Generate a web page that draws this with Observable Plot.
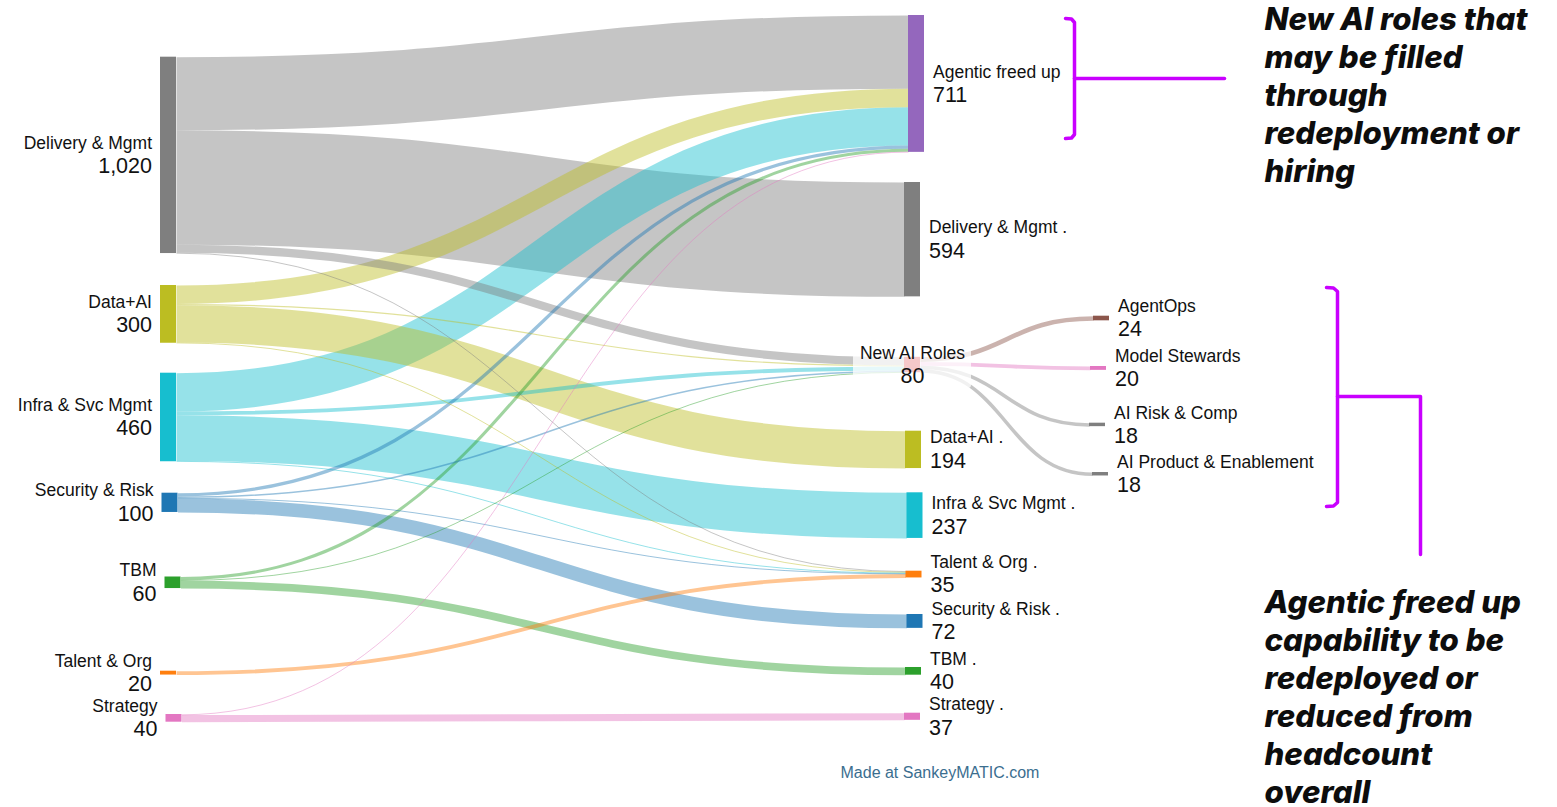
<!DOCTYPE html>
<html>
<head>
<meta charset="utf-8">
<script src="https://cdn.jsdelivr.net/npm/d3@7"></script>
<script src="https://cdn.jsdelivr.net/npm/@observablehq/plot@0.6"></script>
<style>
  html, body { margin: 0; padding: 0; background: #fff; overflow: hidden; }
  #chart svg { display: block; }
</style>
</head>
<body>
<div id="chart"></div>
<script>
// ---------------- DATA ----------------
const nodeNames = [
  "Delivery & Mgmt", "Data+AI", "Infra & Svc Mgmt", "Security & Risk", "TBM", "Talent & Org", "Strategy",
  "Agentic freed up", "Delivery & Mgmt .", "New AI Roles", "Data+AI .", "Infra & Svc Mgmt .",
  "Talent & Org .", "Security & Risk .", "TBM .", "Strategy .",
  "AgentOps", "Model Stewards", "AI Risk & Comp", "AI Product & Enablement"
];
const nodeColors = [
  "#7f7f7f", "#bcbd22", "#17becf", "#1f77b4", "#2ca02c", "#ff7f0e", "#e377c2",
  "#9467bd", "#7f7f7f", "#d62728", "#bcbd22", "#17becf",
  "#ff7f0e", "#1f77b4", "#2ca02c", "#e377c2",
  "#8c564b", "#e377c2", "#7f7f7f", "#7f7f7f"
];
const flowSource = [
  "Delivery & Mgmt", "Delivery & Mgmt", "Delivery & Mgmt", "Delivery & Mgmt",
  "Data+AI", "Data+AI", "Data+AI", "Data+AI",
  "Infra & Svc Mgmt", "Infra & Svc Mgmt", "Infra & Svc Mgmt", "Infra & Svc Mgmt",
  "Security & Risk", "Security & Risk", "Security & Risk", "Security & Risk",
  "TBM", "TBM", "TBM",
  "Talent & Org",
  "Strategy", "Strategy",
  "New AI Roles", "New AI Roles", "New AI Roles", "New AI Roles"
];
const flowTarget = [
  "Agentic freed up", "Delivery & Mgmt .", "New AI Roles", "Talent & Org .",
  "Agentic freed up", "New AI Roles", "Data+AI .", "Talent & Org .",
  "Agentic freed up", "New AI Roles", "Infra & Svc Mgmt .", "Talent & Org .",
  "Agentic freed up", "New AI Roles", "Talent & Org .", "Security & Risk .",
  "Agentic freed up", "New AI Roles", "TBM .",
  "Talent & Org .",
  "Agentic freed up", "Strategy .",
  "AgentOps", "Model Stewards", "AI Risk & Comp", "AI Product & Enablement"
];
const flowValue = [
  380, 594, 42, 4,
  96, 6, 194, 4,
  199, 20, 237, 4,
  17, 8, 3, 72,
  16, 4, 40,
  20,
  3, 37,
  24, 20, 18, 18
];
const annotationTop = "New AI roles that\nmay be filled\nthrough\nredeployment or\nhiring";
const annotationBottom = "Agentic freed up\ncapability to be\nredeployed or\nreduced from\nheadcount\noverall";
const captionText = "Made at SankeyMATIC.com";

// ---------------- LAYOUT (node order per column, padding in headcount units, small drags) ----------------
const W = 1557, H = 807;
const K = 0.1925;            // pixels per headcount unit (vertical scale)
const NODE_W = 16;
const columnX = [160, 904, 1090];
const columnNodes = [
  ["Delivery & Mgmt", "Data+AI", "Infra & Svc Mgmt", "Security & Risk", "TBM", "Talent & Org", "Strategy"],
  ["Agentic freed up", "Delivery & Mgmt .", "New AI Roles", "Data+AI .", "Infra & Svc Mgmt .", "Talent & Org .", "Security & Risk .", "TBM .", "Strategy ."],
  ["AgentOps", "Model Stewards", "AI Risk & Comp", "AI Product & Enablement"]
];
const columnGaps = [
  [294.5, 166, 155.6, 163.4, 335.3, 429.4, 204.9],
  [77.9, 156.6, 314, 303.9, 126, 170.3, 189.9, 203.3, 197.4],
  [1640, 237.3, 274.5, 238.2]
];
const columnNudge = [
  [0, 0, 0, 1.5, 4.5, 0, 5.5],
  [4, 0, 0, 1, 2.5, 1.5, 2.5, 1, 0],
  [3, 0, -1, 2]
];

// ---------------- BUILD ----------------
const nodes = new Map();
nodeNames.forEach((n, i) => nodes.set(n, {name: n, color: nodeColors[i], vin: 0, vout: 0, inL: [], outL: []}));
const links = flowSource.map((s, i) => ({source: nodes.get(s), target: nodes.get(flowTarget[i]), value: flowValue[i]}));
links.forEach(l => {
  l.source.vout += l.value; l.source.outL.push(l);
  l.target.vin += l.value; l.target.inL.push(l);
});
nodes.forEach(n => n.value = Math.max(n.vin, n.vout));
columnNodes.forEach((names, c) => {
  let y = 0;
  names.forEach((nm, i) => {
    const n = nodes.get(nm);
    y += columnGaps[c][i];
    n.y0 = y; n.y1 = y + n.value; y = n.y1;
    n.x0 = columnX[c] + columnNudge[c][i]; n.x1 = n.x0 + NODE_W;
    n.col = c;
    n.side = c === 0 ? "end" : (nm === "New AI Roles" ? "middle" : "start");
  });
});
nodes.forEach(n => {
  let y = n.y0;
  n.outL.sort((a, b) => a.target.y0 - b.target.y0).forEach(l => { l.sy = y + l.value / 2; y += l.value; });
  y = n.y0;
  n.inL.sort((a, b) => a.source.y0 - b.source.y0).forEach(l => { l.ty = y + l.value / 2; y += l.value; });
});
links.forEach(l => l.color = l.source.col === 1 ? l.target.color : l.source.color);
const drawLinks = links.slice().sort((a, b) => b.value - a.value);
const nodeList = Array.from(nodes.values());

const u = px => px / K;   // convert a pixel offset to vertical scale units
const fmt = d3.format(",");
const NAME_SIZE = 17.5, VALUE_SIZE = 21.5;
const labelX = n => n.side === "end" ? n.x0 - 8.5 : n.side === "start" ? n.x1 + 8.5 : (n.x0 + n.x1) / 2;
const cy = n => (n.y0 + n.y1) / 2;

// label highlight box behind the middle-column label
const ctx = document.createElement("canvas").getContext("2d");
ctx.font = `${NAME_SIZE}px "Liberation Sans", Arial, sans-serif`;
const midNodes = nodeList.filter(n => n.side === "middle");
const boxes = midNodes.map(n => {
  const w = ctx.measureText(n.name).width + 12;
  const cx = labelX(n);
  return {x1: cx - w / 2, x2: cx + w / 2, y1: cy(n) - u(23.5), y2: cy(n) + u(23.5)};
});

// annotation font: fit first line to the reference width
const ANN_FONT = 'Inter, "Open Sans", sans-serif';
ctx.font = `italic 800 28px ${ANN_FONT}`;
const annSize = Math.min(32, 28 * 263 / ctx.measureText("New AI roles that").width);

// brackets
const brackets = [
  {id: 1, pts: [[1065, 18], [1071, 18.5], [1074, 22], [1074, 134], [1071, 137.5], [1065, 138]]},
  {id: 2, pts: [[1074, 78], [1224, 78]]},
  {id: 3, pts: [[1326, 287], [1333, 287.5], [1337, 291], [1337, 502], [1333, 505.5], [1326, 506]]},
  {id: 4, pts: [[1337, 396], [1420, 396], [1420, 554]]}
].flatMap(b => b.pts.map(([x, y]) => ({id: b.id, x, y: u(y)})));

const textFont = '"Liberation Sans", Arial, sans-serif';
const textMarks = ["end", "start", "middle"].flatMap(side => {
  const data = nodeList.filter(n => n.side === side);
  return [
    Plot.text(data, {x: labelX, y: cy, text: d => d.name, textAnchor: side, dy: -12,
      fontSize: NAME_SIZE, fill: "#111", fontFamily: textFont}),
    Plot.text(data, {x: labelX, y: cy, text: d => fmt(d.value), textAnchor: side, dy: 11,
      fontSize: VALUE_SIZE, fill: "#111", fontFamily: textFont})
  ];
});

const annOpts = {textAnchor: "start", lineAnchor: "top", lineHeight: 38 / annSize, fontSize: annSize,
  fontWeight: 800, fontStyle: "italic", fontFamily: ANN_FONT, fill: "#0d0d0d"};

const chart = Plot.plot({
  width: W, height: H,
  margin: 0,
  style: {fontFamily: textFont, background: "#fff"},
  x: {domain: [0, W], range: [0, W], axis: null},
  y: {domain: [0, u(H)], range: [0, H], axis: null},
  color: {type: "identity"},
  marks: [
    Plot.link(drawLinks, {
      x1: d => d.source.x1, y1: d => d.sy,
      x2: d => d.target.x0, y2: d => d.ty,
      curve: "bump-x",
      stroke: d => d.color, strokeOpacity: 0.45,
      strokeWidth: d => Math.max(1, d.value * K)
    }),
    Plot.rect(nodeList, {x1: d => d.x0, x2: d => d.x1, y1: d => d.y0, y2: d => d.y1, fill: d => d.color}),
    Plot.rect(boxes, {x1: "x1", x2: "x2", y1: "y1", y2: "y2", fill: "#fff", fillOpacity: 0.75, rx: 3}),
    ...textMarks,
    Plot.line(brackets, {x: "x", y: "y", z: "id", stroke: "#c900ff", strokeWidth: 3.5, strokeLinejoin: "round"}),
    Plot.text([annotationTop], {x: 1264, y: u(3), text: d => d, ...annOpts}),
    Plot.text([annotationBottom], {x: 1264, y: u(586), text: d => d, ...annOpts}),
    Plot.text([captionText], {x: 840, y: u(772), text: d => d, textAnchor: "start", fontSize: 16, fill: "#3b6e8f", fontFamily: textFont})
  ]
});
document.getElementById("chart").appendChild(chart);
</script>
</body>
</html>
